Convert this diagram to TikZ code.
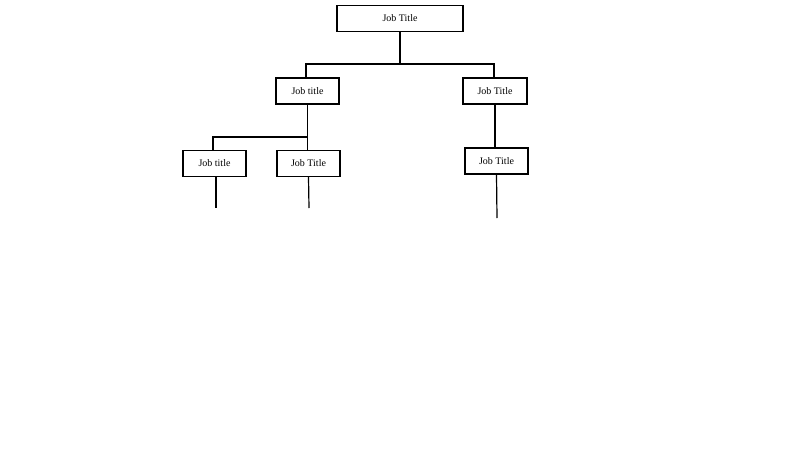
\documentclass[tikz,border=0pt]{standalone}
\usepackage{fontspec}
\setmainfont{Liberation Serif}
\begin{document}
\begin{tikzpicture}[x=1pt,y=-1pt,
  jobbox/.style={draw,line width=1.2pt,minimum height=26pt,inner sep=0pt,font=\fontsize{10}{12}\selectfont},
  conn/.style={line width=1.2pt}]
\useasboundingbox (0,0) rectangle (800,450);
\node[jobbox,minimum width=126pt] (top) at (400,18.5) {Job Title};
\node[jobbox,minimum width=63pt] (l) at (307.5,91) {Job title};
\node[jobbox,minimum width=64pt] (r) at (495,91) {Job Title};
\node[jobbox,minimum width=63pt] (ll) at (214.5,163.5) {Job title};
\node[jobbox,minimum width=63pt] (lr) at (308.5,163.5) {Job Title};
\node[jobbox,minimum width=63pt] (rr) at (496.5,161) {Job Title};
\coordinate (e1) at (216,208);
\coordinate (e2) at (309,208);
\coordinate (e3) at (497,218);
\draw[conn] (top.south) -- (400,64) -| (306,78);
\draw[conn] (400,64) -| (494,78);
\draw[conn] (l.south) -- (307.5,137) -| (213,150);
\draw[conn] (307.5,137) -- (lr.north -| 307.5,0);
\draw[conn] (r.south) -- (rr.north -| r.south);
\draw[conn] (e1 |- ll.south) -- (e1);
\draw[conn] (lr.south) -- (e2);
\draw[conn] (rr.south) -- (e3);
\end{tikzpicture}
\end{document}
